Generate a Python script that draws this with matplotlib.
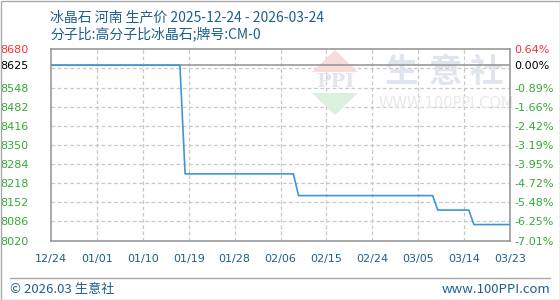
import matplotlib
matplotlib.use("Agg")
import matplotlib.pyplot as plt
from matplotlib.lines import Line2D
from matplotlib.patches import Polygon, Rectangle
import numpy as np
import pandas as pd

# ---------------- data ----------------
title_line1 = "冰晶石 河南 生产价 2025-12-24 - 2026-03-24"
title_line2 = "分子比:高分子比冰晶石;牌号:CM-0"
dates = ["2025-12-24", "2026-01-18", "2026-01-19", "2026-02-09", "2026-02-10",
         "2026-03-08", "2026-03-09", "2026-03-15", "2026-03-16", "2026-03-23"]
prices = [8625, 8625, 8250, 8250, 8175, 8175, 8125, 8125, 8075, 8075]
base_price = 8625
y_min, y_max = 8020, 8680
left_ticks = [8680, 8625, 8548, 8482, 8416, 8350, 8284, 8218, 8152, 8086, 8020]
x_labels = ["12/24", "01/01", "01/10", "01/19", "01/28", "02/06",
            "02/15", "02/24", "03/05", "03/14", "03/23"]
footer_left = "© 2026.03 生意社"
footer_right = "www.100PPI.com"

# ---------------- style ----------------
CJK = ["Noto Sans CJK SC", "DejaVu Sans"]
TXT_BLUE = "#1d5f8e"
LINE_BLUE = "#3d97d3"
GRID = "#c8c8c8"
BORDER = "#999999"
RED = "#ee3333"
GREEN = "#33aa33"

W, H = 560, 300
fig = plt.figure(figsize=(W / 100, H / 100), dpi=100)
fig.patch.set_facecolor("white")

ax_l, ax_r, ax_t, ax_b = 51, 510, 49.3, 240.5
ax = fig.add_axes([ax_l / W, 1 - ax_b / H, (ax_r - ax_l) / W, (ax_b - ax_t) / H])

d = pd.to_datetime(dates)
x = (d - d[0]).days.values.astype(float)
x_end = x[-1]

ax.set_xlim(0, x_end)
ax.set_ylim(y_min, y_max)

# grid lines (10 equal divisions)
for k in range(1, 10):
    yv = y_max - k * (y_max - y_min) / 10
    ax.axhline(yv, color=GRID, lw=0.9, ls=(0, (3, 2)), zorder=1)
    ax.axvline(k * x_end / 10, color=GRID, lw=0.9, ls=(0, (3, 2)), zorder=1)
ax.axhline(base_price, color="#999999", lw=1.2, zorder=2)

# watermark
def px2data(px, py):
    xd = (px - ax_l) / (ax_r - ax_l) * x_end
    yd = y_max - (py - ax_t) / (ax_b - ax_t) * (y_max - y_min)
    return xd, yd

tri_top = Polygon([px2data(312, 72), px2data(358, 72), px2data(335, 50)],
                  closed=True, color="#f8dcd9", lw=0, zorder=1.5)
tri_bot = Polygon([px2data(312, 93), px2data(358, 93), px2data(335, 115)],
                  closed=True, color="#dcf0de", lw=0, zorder=1.5)
ax.add_patch(tri_top)
ax.add_patch(tri_bot)
px, py = px2data(335, 82)
ax.text(px, py, "PPI", family="DejaVu Serif", fontsize=14, fontweight="bold",
        color="#e0e5ee", ha="center", va="center", zorder=1.6)
for ch, cx in zip("生意社", [402, 445, 486]):
    px, py = px2data(cx, 72)
    ax.text(px, py, ch, family=CJK, fontsize=24, fontweight="bold",
            color="#e0e4ed", ha="center", va="center", zorder=1.6)
px, py = px2data(446, 103)
ax.text(px, py, "WWW.100PPI.COM", family="DejaVu Sans", fontsize=10.5,
        color="#e8e8e8", ha="center", va="center", zorder=1.6)

# data line
ax.plot(x, prices, color=LINE_BLUE, lw=1.2, zorder=3)

# spines
for s in ax.spines.values():
    s.set_color(BORDER)
    s.set_linewidth(1.2)

# x ticks
ax.set_xticks(np.linspace(0, x_end, 11))
ax.set_xticklabels(x_labels)
ax.tick_params(axis="x", length=0, pad=10, labelsize=8, labelcolor=TXT_BLUE)

# left ticks
ax.set_yticks(left_ticks)
ax.set_yticklabels([str(v) for v in left_ticks])
ax.tick_params(axis="y", length=0, pad=16, labelsize=8)
for lab, v in zip(ax.get_yticklabels(), left_ticks):
    lab.set_color(RED if v > base_price else ("black" if v == base_price else GREEN))

# right axis
ax2 = ax.twinx()
ax2.set_ylim(y_min, y_max)
ax2.set_yticks(left_ticks)
ax2.set_yticklabels([f"{(v / base_price - 1) * 100:.2f}%" for v in left_ticks])
ax2.tick_params(axis="y", length=0, pad=3, labelsize=8)
for lab, v in zip(ax2.get_yticklabels(), left_ticks):
    lab.set_color(RED if v > base_price else ("black" if v == base_price else GREEN))
for s in ax2.spines.values():
    s.set_visible(False)

# titles
fig.text(50 / W, 1 - 17 / H, title_line1, family=CJK, fontsize=10,
         color=TXT_BLUE, ha="left", va="center")
fig.text(50 / W, 1 - 34 / H, title_line2, family=CJK, fontsize=10,
         color=TXT_BLUE, ha="left", va="center")

# footer
fig.add_artist(Line2D([10 / W, 550 / W], [1 - 278 / H, 1 - 278 / H],
                      color="#aaaaaa", lw=1.0))
fig.text(10 / W, 1 - 289.5 / H, footer_left, family=CJK, fontsize=9.5,
         color=TXT_BLUE, ha="left", va="center")
fig.text(550 / W, 1 - 289.5 / H, footer_right, family=CJK, fontsize=9.5,
         color=TXT_BLUE, ha="right", va="center")

# outer border
fig.add_artist(Rectangle((0.5 / W, 0.5 / H), 1 - 1 / W, 1 - 1 / H,
                         fill=False, edgecolor="#aaaaaa", lw=1.0,
                         transform=fig.transFigure))

fig.savefig("out.png", dpi=100)
